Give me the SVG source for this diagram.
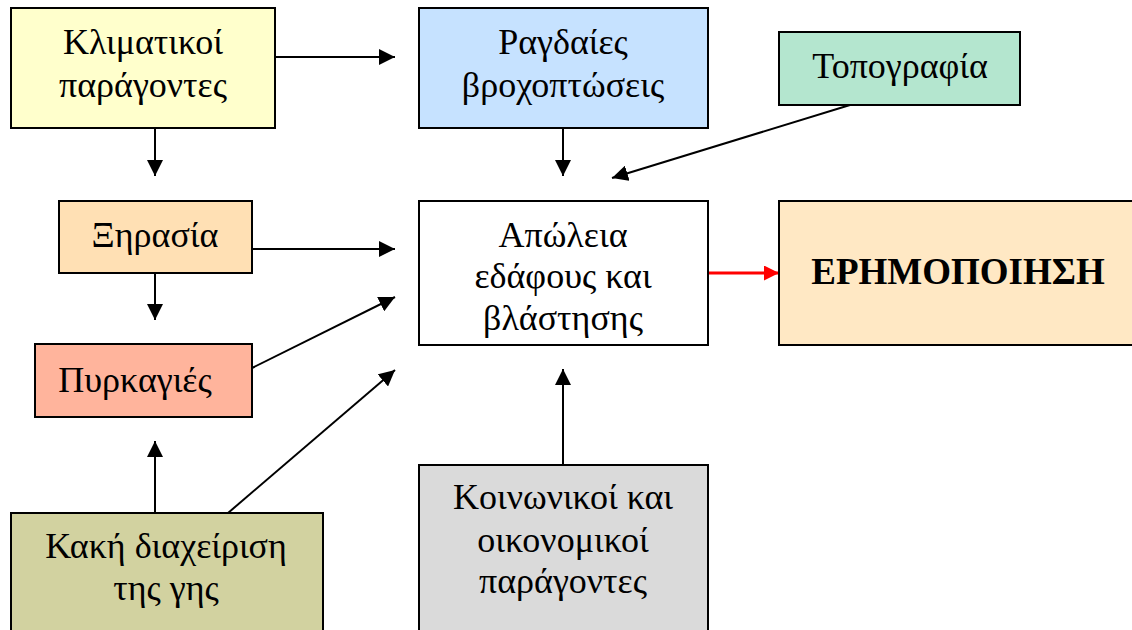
<svg xmlns="http://www.w3.org/2000/svg" width="1132" height="630" viewBox="0 0 1132 630">
<defs>
<style>
.box{stroke:#000;stroke-width:2}
.t{font-family:"Liberation Serif","Times New Roman",serif;font-size:36px;fill:#000;text-anchor:middle}
.b{font-weight:bold;font-size:37px}
.c{stroke:#000;stroke-width:2;fill:none;marker-end:url(#ah)}
.r{stroke:#FF0000;stroke-width:3;fill:none;marker-end:url(#ahr)}
</style>
<marker id="ah" viewBox="0 0 10 10" refX="10" refY="5" markerWidth="8" markerHeight="8" orient="auto" markerUnits="strokeWidth">
<path d="M0,0 L10,5 L0,10 z" fill="#000"/>
</marker>
<marker id="ahr" viewBox="0 0 10 10" refX="10" refY="5" markerWidth="5" markerHeight="5" orient="auto" markerUnits="strokeWidth">
<path d="M0,0 L10,5 L0,10 z" fill="#FF0000"/>
</marker>
</defs>
<rect width="1132" height="630" fill="#fff"/>
<g id="connectors">
<line class="c" x1="275" y1="57" x2="395" y2="57"/>
<line class="c" x1="155" y1="128" x2="155" y2="176"/>
<line class="c" x1="563" y1="128" x2="563" y2="176"/>
<line class="c" x1="850" y1="105" x2="612" y2="178"/>
<line class="c" x1="252" y1="249" x2="395" y2="249"/>
<line class="c" x1="155" y1="273" x2="155" y2="320"/>
<line class="c" x1="252" y1="368" x2="395" y2="297"/>
<line class="c" x1="228" y1="513" x2="395" y2="370"/>
<line class="c" x1="155" y1="513" x2="155" y2="441"/>
<line class="c" x1="563" y1="465" x2="563" y2="369"/>
<line class="r" x1="708" y1="273" x2="779" y2="273"/>
</g>
<g id="klimatikoi">
<rect class="box" x="11" y="8" width="264" height="120" fill="#FFFFCC"/>
<text class="t" x="143" y="54">Κλιματικοί</text>
<text class="t" x="143" y="97">παράγοντες</text>
</g>
<g id="ragdaies">
<rect class="box" x="419" y="8" width="289" height="120" fill="#C6E2FF"/>
<text class="t" x="563" y="54">Ραγδαίες</text>
<text class="t" x="563" y="97">βροχοπτώσεις</text>
</g>
<g id="topografia">
<rect class="box" x="779" y="32" width="241" height="73" fill="#B4E6CF"/>
<text class="t" x="900" y="78">Τοπογραφία</text>
</g>
<g id="xirasia">
<rect class="box" x="59" y="201" width="193" height="72" fill="#FFE0B4"/>
<text class="t" x="155" y="247">Ξηρασία</text>
</g>
<g id="pyrkagies">
<rect class="box" x="35" y="344" width="217" height="73" fill="#FFB49C"/>
<text class="t" x="135" y="392">Πυρκαγιές</text>
</g>
<g id="apoleia">
<rect class="box" x="419" y="201" width="289" height="144" fill="#FFFFFF"/>
<text class="t" x="563" y="247">Απώλεια</text>
<text class="t" x="563" y="288">εδάφους και</text>
<text class="t" x="563" y="330">βλάστησης</text>
</g>
<g id="erimopoiisi">
<rect class="box" x="779" y="201" width="360" height="144" fill="#FFE8C4"/>
<text class="t b" x="958" y="284">ΕΡΗΜΟΠΟΙΗΣΗ</text>
</g>
<g id="kaki">
<rect class="box" x="11" y="513" width="312" height="130" fill="#D2D2A0"/>
<text class="t" x="166" y="558">Κακή διαχείριση</text>
<text class="t" x="166" y="600">της γης</text>
</g>
<g id="koinonikoi">
<rect class="box" x="419" y="465" width="289" height="180" fill="#DADADA"/>
<text class="t" x="563" y="509">Κοινωνικοί και</text>
<text class="t" x="563" y="552">οικονομικοί</text>
<text class="t" x="563" y="593">παράγοντες</text>
</g>
</svg>
